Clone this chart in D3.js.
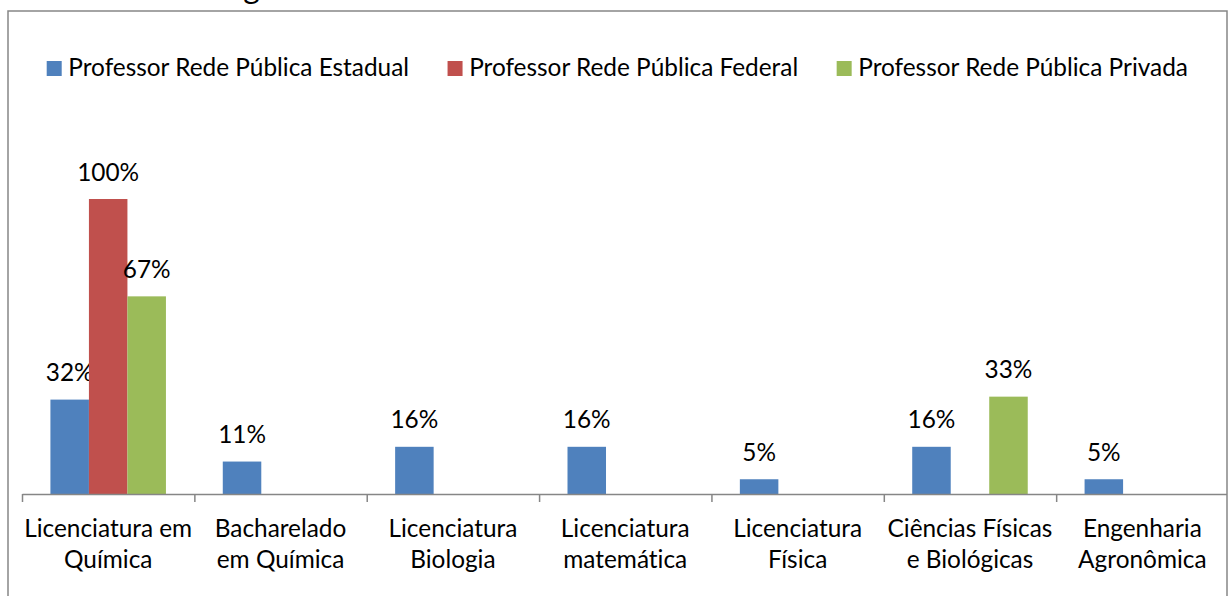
<!DOCTYPE html>
<html><head><meta charset="utf-8">
<script src="https://cdn.jsdelivr.net/npm/d3@7"></script>
<style>html,body{margin:0;padding:0;background:#fff;overflow:hidden}svg{display:block}text{font-variant-ligatures:none;font-feature-settings:"liga" 0,"clig" 0}</style>
</head><body>
<svg id="chart" width="1231" height="596"></svg>
<script>
// ---- data ----
const categories = [
  "Licenciatura em\nQuímica",
  "Bacharelado\nem Química",
  "Licenciatura\nBiologia",
  "Licenciatura\nmatemática",
  "Licenciatura\nFísica",
  "Ciências Físicas\ne Biológicas",
  "Engenharia\nAgronômica"
];
const seriesNames = [
  "Professor Rede Pública Estadual",
  "Professor Rede Pública Federal",
  "Professor Rede Pública Privada"
];
const estadual = [0.32, 0.11, 0.16, 0.16, 0.05, 0.16, 0.05];
const federal  = [1.00, null, null, null, null, null, null];
const privada  = [0.67, null, null, null, null, 0.33, null];
const seriesColors = ["#4F81BD", "#C0504D", "#9BBB59"];
const aboveText = "como mostra a figura.";

// ---- layout ----
const FONT = "Lato, 'Open Sans', sans-serif";
const ctx = document.createElement("canvas").getContext("2d");
ctx.font = "100px Lato";
const f1 = 100 * 128 / ctx.measureText("Licenciatura").width;
const f2 = 100 * 332 / ctx.measureText("Professor Rede Pública Federal").width;
const fs = (f1 + f2) / 2;

const svg = d3.select("#chart");
const frame = {x: 8, y: 11, w: 1219, h: 620};

svg.append("defs").append("clipPath").attr("id", "fc")
  .append("rect").attr("x", frame.x).attr("y", frame.y).attr("width", frame.w).attr("height", frame.h);

// text above the chart (cut off at the top edge, as in the reference)
svg.append("text").attr("x", 312).attr("y", -1.5).attr("text-anchor", "end")
  .attr("font-family", FONT).attr("font-size", fs * 1.3).attr("fill", "#000")
  .text(aboveText);

const g = svg.append("g").attr("clip-path", "url(#fc)");

const plotL = 22, step = 172.36, base = 494, top100 = 199;
const x0 = d3.scaleBand().domain(categories).range([plotL, plotL + step * categories.length]).padding(0);
const x1 = d3.scaleBand().domain([0, 1, 2]).range([0, x0.bandwidth()]).paddingInner(0).paddingOuter(0.738);
const y = d3.scaleLinear().domain([0, 1]).range([base, top100]);
const xi = d3.scaleLinear().domain([0, categories.length]).range(x0.range());

const series = [estadual, federal, privada];

// bars + value labels
series.forEach((vals, si) => {
  const data = categories.map((c, i) => ({c, v: vals[i]})).filter(d => d.v != null);
  g.append("g").selectAll("rect").data(data).join("rect")
    .attr("x", d => x0(d.c) + x1(si))
    .attr("y", d => y(d.v))
    .attr("width", x1.bandwidth())
    .attr("height", d => base - y(d.v))
    .attr("fill", seriesColors[si]);
  g.append("g").selectAll("text").data(data).join("text")
    .attr("x", d => x0(d.c) + x1(si) + x1.bandwidth() / 2)
    .attr("y", d => y(d.v) - 18.5)
    .attr("text-anchor", "middle")
    .attr("font-family", FONT).attr("font-size", fs).attr("fill", "#000")
    .text(d => Math.round(d.v * 100) + "%");
});

// axis
const axis = g.append("g").attr("transform", `translate(0,${base})`)
  .call(d3.axisBottom(xi).tickValues(d3.range(categories.length + 1)).tickFormat("").tickSizeInner(8).tickSizeOuter(0));
axis.select(".domain").attr("stroke", "#868686").attr("stroke-width", 1.5);
axis.selectAll(".tick line").attr("stroke", "#868686").attr("stroke-width", 1.5);

// category labels
const lab = g.append("g").selectAll("text").data(categories).join("text")
  .attr("text-anchor", "middle")
  .attr("font-family", FONT).attr("font-size", fs).attr("fill", "#000");
lab.each(function(c) {
  const t = d3.select(this);
  c.split("\n").forEach((ln, li) => {
    t.append("tspan").attr("x", x0(c) + x0.bandwidth() / 2).attr("y", 536.7 + li * 31.6).text(ln);
  });
});

// legend
const leg = g.append("g");
let lx = 46.7;
seriesNames.forEach((name, i) => {
  leg.append("rect").attr("x", lx).attr("y", 61).attr("width", 15).attr("height", 15).attr("fill", seriesColors[i]);
  const t = leg.append("text").attr("x", lx + 21.6).attr("y", 76)
    .attr("font-family", FONT).attr("font-size", fs).attr("fill", "#000").text(name);
  lx += 21.6 + t.node().getComputedTextLength() + 38.5;
});

// frame
svg.append("rect").attr("x", frame.x).attr("y", frame.y).attr("width", frame.w).attr("height", frame.h)
  .attr("fill", "none").attr("stroke", "#868686").attr("stroke-width", 1.5);
</script>
</body></html>
